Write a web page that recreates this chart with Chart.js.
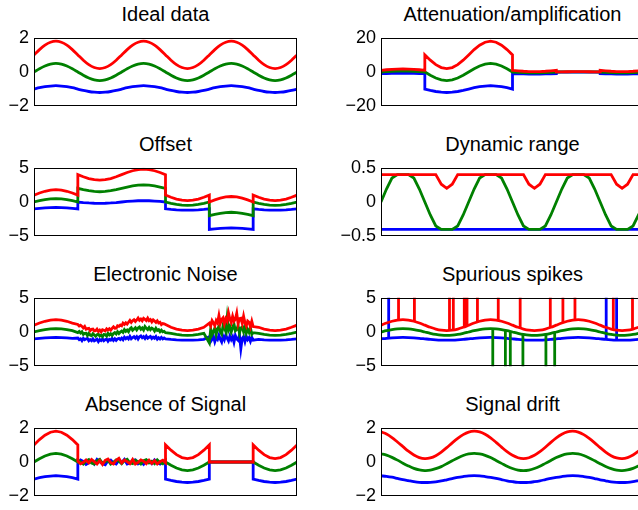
<!DOCTYPE html>
<html>
<head>
<meta charset="utf-8">
<script src="https://cdn.jsdelivr.net/npm/chart.js@4.4.1/dist/chart.umd.min.js"></script>
<style>
  html, body { margin: 0; padding: 0; background: #fff; overflow: hidden; }
  body { width: 638px; height: 510px; position: relative; }
  .title { position: absolute; text-align: center; font-family: 'Liberation Sans', Arial, sans-serif;
           font-size: 20px; line-height: 20px; color: #000; white-space: nowrap; }
  canvas { position: absolute; }
</style>
</head>
<body>
<script>
// Titels van de acht deelgrafieken
const titles = ['Ideal data', 'Attenuation/amplification', 'Offset', 'Dynamic range',
                'Electronic Noise', 'Spurious spikes', 'Absence of Signal', 'Signal drift'];

// x-posities (monsters); dubbele waarden geven een sprong in het signaal
const xInt = [0,1,2,3,4,5,6,7,8,9,10,11,12,13,14,15,16,17,18,19,20,21,22,23,24,
              25,26,27,28,29,30,31,32,33,34,35,36,37,38,39,40,41,42,43,44,45,46,47,48];
const xJump = [0,1,2,3,4,5,6,7,8, 8,9,10,11,12,13,14,15,16,17,18,19,20,21,22,23,24,
               24,25,26,27,28,29,30,31,32, 32,33,34,35,36,37,38,39,40, 40,41,42,43,44,45,46,47,48];
const xNoise = [0,1,2,3,4,5,6,7,
                8,8.25,8.5,8.75,9,9.25,9.5,9.75,10,10.25,10.5,10.75,11,11.25,11.5,11.75,
                12,12.25,12.5,12.75,13,13.25,13.5,13.75,14,14.25,14.5,14.75,15,15.25,15.5,15.75,
                16,16.25,16.5,16.75,17,17.25,17.5,17.75,18,18.25,18.5,18.75,19,19.25,19.5,19.75,
                20,20.25,20.5,20.75,21,21.25,21.5,21.75,22,22.25,22.5,22.75,23,23.25,23.5,23.75,24,
                25,26,27,28,29,30,31,
                32,32.25,32.5,32.75,33,33.25,33.5,33.75,34,34.25,34.5,34.75,35,35.25,35.5,35.75,36,
                36.25,36.5,36.75,37,37.25,37.5,37.75,38,38.25,38.5,38.75,39,39.25,39.5,39.75,40,
                41,42,43,44,45,46,47,48];
const xAbsence = [0,1,2,3,4,5,6,7,8,
                  8,8.5,9,9.5,10,10.5,11,11.5,12,12.5,13,13.5,14,14.5,15,15.5,16,16.5,17,17.5,18,18.5,19,19.5,20,20.5,21,21.5,22,22.5,23,23.5,24,
                  24,25,26,27,28,29,30,31,32,
                  32,40,
                  40,41,42,43,44,45,46,47,48];

// Ideal data
const idealRed = [1,1.31,1.57,1.74,1.8,1.74,1.57,1.31,1,0.69,0.43,0.26,0.2,0.26,0.43,0.69,
                  1,1.31,1.57,1.74,1.8,1.74,1.57,1.31,1,0.69,0.43,0.26,0.2,0.26,0.43,0.69,
                  1,1.31,1.57,1.74,1.8,1.74,1.57,1.31,1,0.69,0.43,0.26,0.2,0.26,0.43,0.69,1];
const idealGreen = [0,0.19,0.35,0.46,0.5,0.46,0.35,0.19,0,-0.19,-0.35,-0.46,-0.5,-0.46,-0.35,-0.19,
                    0,0.19,0.35,0.46,0.5,0.46,0.35,0.19,0,-0.19,-0.35,-0.46,-0.5,-0.46,-0.35,-0.19,
                    0,0.19,0.35,0.46,0.5,0.46,0.35,0.19,0,-0.19,-0.35,-0.46,-0.5,-0.46,-0.35,-0.19,0];
const idealBlue = [-1,-0.92,-0.86,-0.82,-0.8,-0.82,-0.86,-0.92,-1,-1.08,-1.14,-1.18,-1.2,-1.18,-1.14,-1.08,
                   -1,-0.92,-0.86,-0.82,-0.8,-0.82,-0.86,-0.92,-1,-1.08,-1.14,-1.18,-1.2,-1.18,-1.14,-1.08,
                   -1,-0.92,-0.86,-0.82,-0.8,-0.82,-0.86,-0.92,-1,-1.08,-1.14,-1.18,-1.2,-1.18,-1.14,-1.08,-1];

// Attenuation/amplification (op xJump)
const attenRed = [1,1.31,1.57,1.74,1.8,1.74,1.57,1.31,1,
                  10,6.9,4.3,2.6,2,2.6,4.3,6.9,10,13.1,15.7,17.4,18,17.4,15.7,13.1,10,
                  1,0.69,0.43,0.26,0.2,0.26,0.43,0.69,1,
                  0.1,0.13,0.16,0.17,0.18,0.17,0.16,0.13,0.1,
                  1,0.69,0.43,0.26,0.2,0.26,0.43,0.69,1];
const attenGreen = [0,0.19,0.35,0.46,0.5,0.46,0.35,0.19,0,
                    0,-1.9,-3.5,-4.6,-5,-4.6,-3.5,-1.9,0,1.9,3.5,4.6,5,4.6,3.5,1.9,0,
                    0,-0.19,-0.35,-0.46,-0.5,-0.46,-0.35,-0.19,0,
                    0,0.02,0.04,0.05,0.05,0.05,0.04,0.02,0,
                    0,-0.19,-0.35,-0.46,-0.5,-0.46,-0.35,-0.19,0];
const attenBlue = [-1,-0.92,-0.86,-0.82,-0.8,-0.82,-0.86,-0.92,-1,
                   -10,-10.8,-11.4,-11.8,-12,-11.8,-11.4,-10.8,-10,-9.2,-8.6,-8.2,-8,-8.2,-8.6,-9.2,-10,
                   -1,-1.08,-1.14,-1.18,-1.2,-1.18,-1.14,-1.08,-1,
                   -0.1,-0.09,-0.09,-0.08,-0.08,-0.08,-0.09,-0.09,-0.1,
                   -1,-1.08,-1.14,-1.18,-1.2,-1.18,-1.14,-1.08,-1];

// Offset (op xJump)
const offsetRed = [1,1.31,1.57,1.74,1.8,1.74,1.57,1.31,1,
                   4,3.69,3.43,3.26,3.2,3.26,3.43,3.69,4,4.31,4.57,4.74,4.8,4.74,4.57,4.31,4,
                   1,0.69,0.43,0.26,0.2,0.26,0.43,0.69,1,
                   0,0.31,0.57,0.74,0.8,0.74,0.57,0.31,0,
                   1,0.69,0.43,0.26,0.2,0.26,0.43,0.69,1];
const offsetGreen = [0,0.19,0.35,0.46,0.5,0.46,0.35,0.19,0,
                     2,1.81,1.65,1.54,1.5,1.54,1.65,1.81,2,2.19,2.35,2.46,2.5,2.46,2.35,2.19,2,
                     0,-0.19,-0.35,-0.46,-0.5,-0.46,-0.35,-0.19,0,
                     -2,-1.81,-1.65,-1.54,-1.5,-1.54,-1.65,-1.81,-2,
                     0,-0.19,-0.35,-0.46,-0.5,-0.46,-0.35,-0.19,0];
const offsetBlue = [-1,-0.92,-0.86,-0.82,-0.8,-0.82,-0.86,-0.92,-1,
                    0,-0.08,-0.14,-0.18,-0.2,-0.18,-0.14,-0.08,0,0.08,0.14,0.18,0.2,0.18,0.14,0.08,0,
                    -1,-1.08,-1.14,-1.18,-1.2,-1.18,-1.14,-1.08,-1,
                    -4,-3.92,-3.86,-3.82,-3.8,-3.82,-3.86,-3.92,-4,
                    -1,-1.08,-1.14,-1.18,-1.2,-1.18,-1.14,-1.08,-1];

// Dynamic range (afgekapt)
const dynRed = [0.4,0.4,0.4,0.4,0.4,0.4,0.4,0.4,0.4,0.4,0.4,0.26,0.2,0.26,
                0.4,0.4,0.4,0.4,0.4,0.4,0.4,0.4,0.4,0.4,0.4,0.4,0.4,0.26,0.2,0.26,
                0.4,0.4,0.4,0.4,0.4,0.4,0.4,0.4,0.4,0.4,0.4,0.4,0.4,0.26,0.2,0.26,0.4,0.4,0.4];
const dynGreen = [0,0.19,0.35,0.4,0.4,0.4,0.35,0.19,0,-0.19,-0.35,-0.4,-0.4,-0.4,-0.35,-0.19,
                  0,0.19,0.35,0.4,0.4,0.4,0.35,0.19,0,-0.19,-0.35,-0.4,-0.4,-0.4,-0.35,-0.19,
                  0,0.19,0.35,0.4,0.4,0.4,0.35,0.19,0,-0.19,-0.35,-0.4,-0.4,-0.4,-0.35,-0.19,0];
const dynBlueX = [0, 48];
const dynBlue = [-0.4, -0.4];

// Electronic Noise (op xNoise)
const noiseRed = [1,1.31,1.57,1.74,1.8,1.74,1.57,1.31,
                  1.1,0.87,0.99,0.82,0.59,0.82,0.41,0.49,0.53,0.18,0.39,0.44,0.16,0.18,0.42,0.08,
                  0.28,0.02,0.34,0.25,0.16,0.47,0.29,0.48,0.28,0.54,0.76,0.54,0.57,0.92,0.84,1.02,
                  0.9,1.3,1.11,1.35,1.16,1.43,1.69,1.41,1.65,1.8,1.54,1.76,2.04,1.72,1.9,1.65,
                  2,1.85,1.68,2.02,1.66,1.81,1.48,1.77,1.59,1.39,1.64,1.33,1.41,1.08,1.24,1.2,1.1,
                  0.69,0.43,0.26,0.2,0.26,0.43,0.69,
                  1.3,0.88,1.66,1.33,0.91,1.68,1.34,2.41,1.27,1.82,2.06,1.21,1.94,1.57,2.78,1.9,1.4,
                  2.3,1.58,1.87,2.74,1.21,1.96,2.02,1.27,2.31,1.34,0.88,1.61,1.43,0.76,1.58,0.8,
                  0.69,0.43,0.26,0.2,0.26,0.43,0.69,1];
const noiseGreen = [0,0.19,0.35,0.46,0.5,0.46,0.35,0.19,
                    -0.1,0.07,-0.15,0.03,-0.34,-0.19,-0.18,-0.52,-0.2,-0.44,-0.54,-0.24,-0.44,-0.63,-0.39,-0.32,
                    -0.6,-0.45,-0.69,-0.36,-0.38,-0.59,-0.22,-0.44,-0.25,-0.5,-0.23,-0.09,-0.29,0.05,-0.22,0,
                    0.15,-0.05,0.35,0.1,0.29,0.04,0.46,0.62,0.25,0.44,0.62,0.29,0.58,0.73,0.41,0.6,
                    0.3,0.8,0.54,0.36,0.66,0.34,0.57,0.44,0.15,0.54,0.23,0.34,0.04,0.27,0.02,0.1,-0.1,
                    -0.19,-0.35,-0.46,-0.5,-0.46,-0.35,-0.19,
                    -1.6,0.45,-0.4,0.05,0.59,-0.36,0.48,0.82,0.05,-0.31,0.92,0.54,0.06,2.08,0.29,0.8,0,
                    0.6,1.19,0.18,0.36,0.94,-0.18,0.59,0.75,0.02,0.88,-0.16,0.39,-0.05,0.6,-0.35,-0.1,
                    -0.19,-0.35,-0.46,-0.5,-0.46,-0.35,-0.19,0];
const noiseBlue = [-1,-0.92,-0.86,-0.82,-0.8,-0.82,-0.86,-0.92,
                   -0.88,-1.12,-0.99,-1.26,-0.93,-1.14,-1.01,-0.93,-1.29,-1.1,-1.27,-1,-1.3,-1.17,-1.05,-1.4,
                   -1.1,-1.25,-1,-1.29,-1.13,-1.03,-1.35,-1.07,-1.19,-0.93,-1.23,-0.99,-1.23,-1.01,-0.92,-1.1,
                   -0.9,-1.13,-0.76,-0.99,-0.8,-1.01,-0.64,-0.99,-0.81,-0.67,-0.91,-0.67,-1.02,-0.71,-0.58,-0.85,
                   -0.68,-0.95,-0.6,-0.91,-0.77,-0.64,-0.95,-0.75,-0.91,-0.67,-1.04,-0.83,-1.02,-0.79,-1.01,-0.88,-1,
                   -1.08,-1.14,-1.18,-1.2,-1.18,-1.14,-1.08,
                   -0.7,-1.38,-1.06,-0.64,-1.42,-0.81,-1.09,-0.47,-1.06,-1.45,-0.63,-1.12,-0.42,-0.91,-1.3,-0.6,-1.1,
                   -0.7,-1.5,-0.51,-1.02,-1.22,-0.43,-2.45,-0.96,-0.67,-1.39,-0.61,-1.12,-0.84,-1.36,-0.78,-1.2,
                   -1.08,-1.14,-1.18,-1.2,-1.18,-1.14,-1.08,-1];

// Spurious spikes: positie, voet en top van elke piek
const spikeRedX = [3.2,6.1,12.5,13.2,15.2,15.7,17.6,21.4,25.4,30.9,33.2,35.4,42.4,45.9];
const spikeRedBase = [1.76,1.54,0.22,0.29,0.75,0.91,1.47,1.68,0.58,0.66,1.36,1.78,0.35,0.41];
const spikeGreenX = [20.4,22.7,23.6,25.9,30.1,31.7];
const spikeGreenBase = [0.49,0.24,0.08,-0.34,-0.34,-0.06];
const spikeBlueX = [1.4,41.1,43];
const spikeBlueBase = [-0.9,-1.08,-1.18];
const spikePeak = { red: 8, green: -8, blue: 8 };

// Absence of Signal (op xAbsence)
const absRed = [1,1.31,1.57,1.74,1.8,1.74,1.57,1.31,1,
                0.05,-0.1,-0.02,0.12,-0.05,0.15,0.02,-0.12,0.08,-0.15,0.1,0.18,-0.04,-0.12,0.1,0.22,-0.05,0.12,0.02,-0.1,0.15,-0.12,-0.02,0.12,0.05,-0.1,0.1,-0.08,0.08,-0.12,0.02,0.1,-0.05,
                1,0.69,0.43,0.26,0.2,0.26,0.43,0.69,1,
                0,0,
                1,0.69,0.43,0.26,0.2,0.26,0.43,0.69,1];
const absGreen = [0,0.19,0.35,0.46,0.5,0.46,0.35,0.19,0,
                  0.1,0.02,-0.12,0.05,0.14,-0.06,-0.12,0.06,0.15,-0.08,0.02,0.1,-0.12,-0.02,0.12,0.05,-0.1,0.08,0.16,-0.05,-0.1,0.1,0.02,-0.12,0.08,0.14,-0.06,0.04,-0.1,0.12,-0.03,-0.1,0.06,
                  0,-0.19,-0.35,-0.46,-0.5,-0.46,-0.35,-0.19,0,
                  0,0,
                  0,-0.19,-0.35,-0.46,-0.5,-0.46,-0.35,-0.19,0];
const absBlue = [-1,-0.92,-0.86,-0.82,-0.8,-0.82,-0.86,-0.92,-1,
                 -0.08,0.12,0.04,-0.14,-0.05,0.1,-0.12,0.15,0.02,-0.1,-0.16,0.08,0.12,-0.05,-0.12,0.1,-0.03,0.15,-0.12,-0.06,0.08,0.12,-0.1,0.02,-0.14,0.1,0.05,-0.1,0.12,-0.04,-0.12,0.06,-0.1,
                 -1,-1.08,-1.14,-1.18,-1.2,-1.18,-1.14,-1.08,-1,
                 0,0,
                 -1,-1.08,-1.14,-1.18,-1.2,-1.18,-1.14,-1.08,-1];

// Signal drift (verschoven fase)
const driftRed = [1.76,1.64,1.43,1.17,0.9,0.63,0.41,0.26,0.2,0.24,0.37,0.58,0.84,1.12,1.38,1.6,1.75,1.8,
                  1.76,1.62,1.41,1.15,0.87,0.6,0.39,0.25,0.2,0.25,0.39,0.6,0.86,1.15,1.41,1.62,1.76,1.8,
                  1.75,1.6,1.38,1.12,0.84,0.58,0.37,0.24,0.2,0.26,0.41,0.63,0.89];
const driftGreen = [0.48,0.4,0.27,0.11,-0.07,-0.23,-0.37,-0.46,-0.5,-0.48,-0.39,-0.27,-0.1,0.07,0.24,0.38,0.47,0.5,
                    0.47,0.39,0.26,0.09,-0.08,-0.25,-0.38,-0.47,-0.5,-0.47,-0.38,-0.25,-0.08,0.09,0.26,0.39,0.47,0.5,
                    0.47,0.38,0.24,0.07,-0.1,-0.26,-0.39,-0.48,-0.5,-0.46,-0.37,-0.23,-0.07];
const driftBlue = [-0.81,-0.84,-0.89,-0.96,-1.03,-1.09,-1.15,-1.19,-1.2,-1.19,-1.16,-1.11,-1.04,-0.97,-0.9,-0.85,-0.81,-0.8,
                   -0.81,-0.85,-0.9,-0.96,-1.03,-1.1,-1.15,-1.19,-1.2,-1.19,-1.15,-1.1,-1.03,-0.96,-0.9,-0.85,-0.81,-0.8,
                   -0.81,-0.85,-0.9,-0.97,-1.04,-1.1,-1.16,-1.19,-1.2,-1.19,-1.15,-1.09,-1.03];

// Y-as bereik per grafiek: [min, max, stap]
const yRanges = [[-2, 2, 2], [-20, 20, 20], [-5, 5, 5], [-0.5, 0.5, 0.5],
                 [-5, 5, 5], [-5, 5, 5], [-2, 2, 2], [-2, 2, 2]];

const RED = '#ff0000', GREEN = '#008000', BLUE = '#0000ff';
const LW = 2.8;

Chart.defaults.font.family = "'Liberation Sans', Arial, sans-serif";

// Lijn uit x- en y-arrays
function line(xs, ys, color, tension) {
    return {
        data: xs.map((x, i) => ({ x: x, y: ys[i] })),
        borderColor: color,
        borderWidth: LW,
        pointRadius: 0,
        tension: tension || 0,
        clip: 0,
        fill: false
    };
}

// Verticale pieken, onderbroken door null
function spikes(xs, bases, peak, color) {
    const data = [];
    xs.forEach((x, i) => {
        data.push({ x: x, y: bases[i] }, { x: x, y: peak }, { x: x, y: null });
    });
    return { data: data, borderColor: color, borderWidth: LW, pointRadius: 0, clip: 0, fill: false, spanGaps: false };
}

// Zwart kader rond het plotgebied
const framePlugin = {
    id: 'frame',
    afterDatasetsDraw(chart) {
        const { ctx, chartArea: a } = chart;
        ctx.save();
        ctx.strokeStyle = '#000';
        ctx.lineWidth = 1;
        ctx.strokeRect(Math.round(a.left) + 0.5, Math.round(a.top) + 0.5,
                       Math.round(a.width) - 1, Math.round(a.height) - 1);
        ctx.restore();
    }
};

const panelSets = [
    [line(xInt, idealRed, RED, 0.3), line(xInt, idealGreen, GREEN, 0.3), line(xInt, idealBlue, BLUE, 0.3)],
    [line(xJump, attenRed, RED), line(xJump, attenGreen, GREEN), line(xJump, attenBlue, BLUE)],
    [line(xJump, offsetRed, RED), line(xJump, offsetGreen, GREEN), line(xJump, offsetBlue, BLUE)],
    [line(xInt, dynRed, RED), line(xInt, dynGreen, GREEN), line(dynBlueX, dynBlue, BLUE)],
    [line(xNoise, noiseRed, RED), line(xNoise, noiseGreen, GREEN), line(xNoise, noiseBlue, BLUE)],
    [line(xInt, idealRed, RED, 0.3), spikes(spikeRedX, spikeRedBase, spikePeak.red, RED),
     line(xInt, idealGreen, GREEN, 0.3), spikes(spikeGreenX, spikeGreenBase, spikePeak.green, GREEN),
     line(xInt, idealBlue, BLUE, 0.3), spikes(spikeBlueX, spikeBlueBase, spikePeak.blue, BLUE)],
    [line(xAbsence, absRed, RED), line(xAbsence, absGreen, GREEN), line(xAbsence, absBlue, BLUE)],
    [line(xInt, driftRed, RED, 0.3), line(xInt, driftGreen, GREEN, 0.3), line(xInt, driftBlue, BLUE, 0.3)]
];

// Layout: plotgebied per kolom/rij
const PLOT_W = 263, PLOT_H = 70, PAD = 15;
const colLeft = [34, 381];
const axisW = [34, 61];
const rowTop = [37, 167, 297, 427];

panelSets.forEach((sets, i) => {
    const col = i % 2, row = Math.floor(i / 2);
    const left = colLeft[col], top = rowTop[row];

    const t = document.createElement('div');
    t.className = 'title';
    t.textContent = titles[i];
    t.style.left = left + 'px';
    t.style.width = PLOT_W + 'px';
    t.style.top = (top - 33) + 'px';
    document.body.appendChild(t);

    const canvas = document.createElement('canvas');
    const w = axisW[col] + PLOT_W, h = PLOT_H + 2 * PAD;
    canvas.width = w;
    canvas.height = h;
    canvas.style.width = w + 'px';
    canvas.style.height = h + 'px';
    canvas.style.left = (left - axisW[col]) + 'px';
    canvas.style.top = (top - PAD) + 'px';
    document.body.appendChild(canvas);

    const [yMin, yMax, yStep] = yRanges[i];
    new Chart(canvas.getContext('2d'), {
        type: 'line',
        data: { datasets: sets },
        options: {
            responsive: false,
            animation: false,
            events: [],
            layout: { padding: { top: PAD, bottom: PAD, left: 0, right: 0 } },
            plugins: { legend: { display: false }, tooltip: { enabled: false } },
            scales: {
                x: { type: 'linear', min: 0, max: 48, display: false },
                y: {
                    min: yMin,
                    max: yMax,
                    grid: { display: false, drawTicks: false },
                    border: { display: false },
                    ticks: {
                        stepSize: yStep,
                        padding: 5,
                        color: '#000',
                        font: { size: 18 },
                        callback: v => (v < 0 ? '\u2212' + Math.abs(v) : String(v))
                    },
                    afterFit: scale => { scale.width = axisW[col]; }
                }
            }
        },
        plugins: [framePlugin]
    });
});
</script>
</body>
</html>
